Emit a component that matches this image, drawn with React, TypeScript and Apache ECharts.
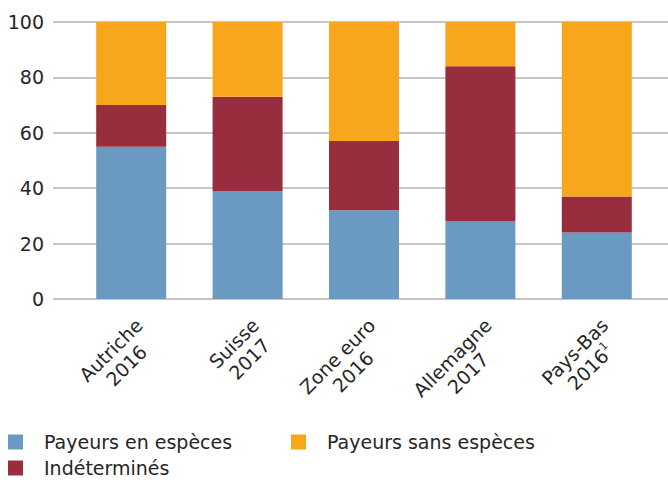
import React, { useEffect, useRef } from "react";
import * as echarts from "echarts";

const categories = ["Autriche\n2016", "Suisse\n2017", "Zone euro\n2016", "Allemagne\n2017", "Pays-Bas\n2016^1"];
const cashPayers = [55, 39, 32, 28, 24];
const undetermined = [15, 34, 25, 56, 13];
const cashlessPayers = [30, 27, 43, 16, 63];
const yMin = 0;
const yMax = 100;
const yInterval = 20;

const seriesNames = ["Payeurs en espèces", "Indéterminés", "Payeurs sans espèces"];
const colors = ["#6A9AC2", "#982E3D", "#F8A61C"];

const FONT = "'DejaVu Sans', sans-serif";
const TEXT = "#262626";

export default function App() {
  const ref = useRef<HTMLDivElement>(null);
  useEffect(() => {
    document.body.style.margin = "0";
    const chart = echarts.init(ref.current!, null, { renderer: "svg" });
    const legendBase = {
      orient: "horizontal",
      padding: 0,
      icon: "rect",
      itemWidth: 15,
      itemHeight: 15,
      selectedMode: false,
      textStyle: { fontFamily: FONT, fontSize: 19, lineHeight: 22, color: TEXT, padding: [0, 0, 0, 16] },
    };
    const fmt = (v: string) =>
      v
        .split("\n")
        .map((s) => {
          const [main, sup] = s.split("^");
          return sup ? `{c|${main}}{s|${sup}}` : `{c|${main}}`;
        })
        .join("\n");
    chart.setOption({
      animation: false,
      textStyle: { fontFamily: FONT },
      legend: [
        { ...legendBase, data: [seriesNames[0]], left: 8, top: 431 },
        { ...legendBase, data: [seriesNames[2]], left: 291, top: 431 },
        { ...legendBase, data: [seriesNames[1]], left: 8, top: 457 },
      ],
      grid: [
        { left: 73, right: 13, top: 22, bottom: 181, outerBoundsMode: "none" },
        { left: 53, right: 0, top: 22, bottom: 181, outerBoundsMode: "none" },
      ],
      xAxis: [
        {
          type: "category",
          gridIndex: 0,
          data: categories,
          axisLine: { show: false },
          axisTick: { show: false },
          axisLabel: {
            interval: 0,
            rotate: 45,
            margin: 15,
            verticalAlign: "top",
            padding: [0, 0, 0, 0],
            color: TEXT,
            fontFamily: FONT,
            fontSize: 19,
            lineHeight: 22,
            formatter: fmt,
            rich: {
              c: { align: "center", fontFamily: FONT, fontSize: 19, lineHeight: 22, color: TEXT },
              s: { align: "center", fontFamily: FONT, fontSize: 11, lineHeight: 11, verticalAlign: "top", color: TEXT },
            },
          },
        },
        { type: "value", gridIndex: 1, show: false, min: 0, max: 1 },
      ],
      yAxis: [
        { type: "value", gridIndex: 0, min: yMin, max: yMax, interval: yInterval, show: false, splitLine: { show: false } },
        {
          type: "value",
          gridIndex: 1,
          min: yMin,
          max: yMax,
          interval: yInterval,
          axisLine: { show: false },
          axisTick: { show: false },
          axisLabel: { color: TEXT, fontFamily: FONT, fontSize: 19, margin: 9 },
          splitLine: { show: true, lineStyle: { color: "#b3b3b3", width: 1.5 } },
        },
      ],
      series: [
        { name: seriesNames[0], type: "bar", stack: "s", data: cashPayers, barWidth: 70, itemStyle: { color: colors[0] }, xAxisIndex: 0, yAxisIndex: 0 },
        { name: seriesNames[1], type: "bar", stack: "s", data: undetermined, barWidth: 70, itemStyle: { color: colors[1] }, xAxisIndex: 0, yAxisIndex: 0 },
        { name: seriesNames[2], type: "bar", stack: "s", data: cashlessPayers, barWidth: 70, itemStyle: { color: colors[2] }, xAxisIndex: 0, yAxisIndex: 0 },
      ],
    });
    return () => chart.dispose();
  }, []);
  return <div ref={ref} style={{ position: "absolute", left: 0, top: 0, width: 668, height: 480 }} />;
}
